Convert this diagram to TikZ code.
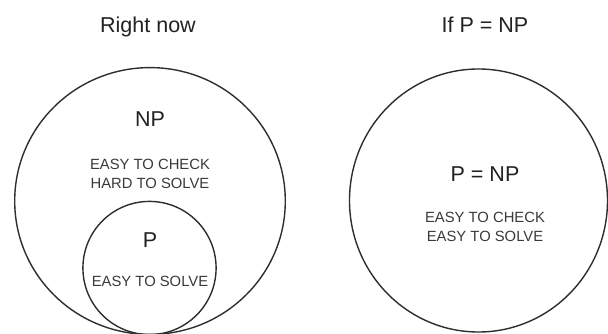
\documentclass[tikz,border=0pt]{standalone}
\usepackage{fontspec}
\setmainfont{Liberation Sans}
\definecolor{ringc}{HTML}{2E2E2E}
\definecolor{bigtxt}{HTML}{222222}
\definecolor{smalltxt}{HTML}{3A3A3A}
\begin{document}
\begin{tikzpicture}[x=1pt,y=-1pt,
  ring/.style={draw=ringc,line width=1.4pt},
  bigtext/.style={inner sep=0pt,anchor=base,text=bigtxt,font=\fontsize{21.5}{26}\selectfont},
  smalltext/.style={inner sep=0pt,anchor=base,align=center,text=smalltxt,font=\fontsize{14.8}{19}\selectfont}]
\useasboundingbox (0,0) rectangle (608,334);
\clip (0,0) rectangle (608,334);
\fill[white] (0,0) rectangle (608,334);
% circles
\draw[ring] (150,201) ellipse [x radius=135.3, y radius=133.4];
\draw[ring] (149.5,268) circle [radius=66.6];
\draw[ring] (478.5,200.5) ellipse [x radius=129, y radius=131.5];
% titles
\node[bigtext] (t1) at (148,32.7) {Right now};
\node[bigtext] (t2) at (485,32.7) {If P = NP};
% left
\node[bigtext] (np) at (150,126.7) {NP};
\node[smalltext] (npd) at (150,188.3) {EASY TO CHECK\\HARD TO SOLVE};
\node[bigtext] (p) at (150,247) {P};
\node[smalltext] (pd) at (150,286.3) {EASY TO SOLVE};
% right
\node[bigtext] (pnp) at (485,181.7) {P = NP};
\node[smalltext] (pnpd) at (485,241) {EASY TO CHECK\\EASY TO SOLVE};
\end{tikzpicture}
\end{document}
